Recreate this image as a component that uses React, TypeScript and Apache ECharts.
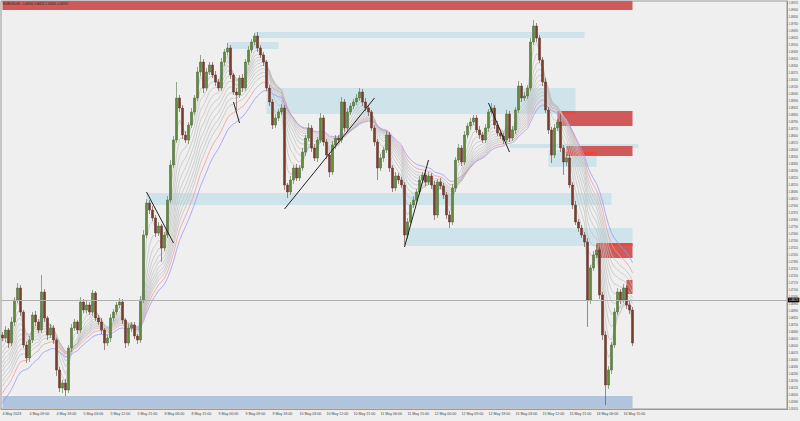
import React, { useEffect, useRef } from "react";
import * as echarts from "echarts";

// ---- data ----
const firstOpen = 1.0665;
const closes = [
  1.0662, 1.067, 1.0657, 1.0678, 1.07, 1.0712, 1.0688, 1.0655, 1.0642, 1.066,
  1.0685, 1.0678, 1.067, 1.0708, 1.0682, 1.0665, 1.0672, 1.066, 1.063, 1.0612,
  1.0617, 1.061, 1.0652, 1.0672, 1.0678, 1.067, 1.0698, 1.069, 1.0695, 1.0688,
  1.0707, 1.0682, 1.0678, 1.067, 1.0657, 1.0662, 1.0682, 1.0688, 1.0695, 1.0698,
  1.068, 1.0657, 1.0672, 1.0675, 1.0664, 1.066, 1.07, 1.0765, 1.0797, 1.079,
  1.0782, 1.0767, 1.0774, 1.0752, 1.0765, 1.08, 1.0835, 1.086, 1.0902, 1.0892,
  1.0865, 1.086, 1.0875, 1.0888, 1.0902, 1.0928, 1.0938, 1.0912, 1.0928, 1.0935,
  1.0925, 1.0918, 1.0912, 1.0938, 1.0948, 1.0952, 1.0925, 1.0908, 1.0905, 1.0922,
  1.0912, 1.0938, 1.095, 1.0958, 1.0964, 1.0952, 1.0945, 1.0938, 1.0912, 1.0898,
  1.0875, 1.0882, 1.0888, 1.0892, 1.0815, 1.0808, 1.082, 1.0832, 1.0822, 1.0832,
  1.0848, 1.0862, 1.0872, 1.0852, 1.0842, 1.086, 1.0882, 1.0858, 1.0845, 1.0828,
  1.0855, 1.0862, 1.086, 1.0898, 1.0872, 1.0888, 1.0894, 1.0898, 1.0902, 1.0908,
  1.0898, 1.0892, 1.0888, 1.0872, 1.0858, 1.0832, 1.0842, 1.085, 1.0865, 1.0832,
  1.0812, 1.0824, 1.082, 1.0815, 1.0765, 1.0778, 1.0795, 1.08, 1.0808, 1.082,
  1.0825, 1.0818, 1.0824, 1.0815, 1.0785, 1.0818, 1.0814, 1.0805, 1.0785, 1.0778,
  1.0812, 1.084, 1.0852, 1.0838, 1.0865, 1.0874, 1.0878, 1.0882, 1.087, 1.0865,
  1.086, 1.0872, 1.0888, 1.0892, 1.0875, 1.0867, 1.0864, 1.086, 1.0886, 1.0862,
  1.087, 1.089, 1.0914, 1.0902, 1.0904, 1.0912, 1.0958, 1.0974, 1.0962, 1.094,
  1.0918, 1.089, 1.087, 1.0845, 1.0872, 1.0878, 1.0852, 1.0838, 1.0842, 1.0815,
  1.0795, 1.0778, 1.0772, 1.0765, 1.0758, 1.07, 1.0732, 1.0745, 1.075, 1.0705,
  1.0665, 1.0615, 1.063, 1.0655, 1.0688, 1.0708, 1.07, 1.0712, 1.0695, 1.069,
  1.0657,
];
// wick lengths in pips beyond the body
const upperWicks = [
  3, 4, 2, 5, 3, 5, 3, 2, 3, 4, 3, 4, 3, 17, 3, 2, 4, 3, 2, 3,
  3, 4, 3, 4, 3, 2, 5, 3, 4, 3, 3, 2, 3, 4, 2, 3, 4, 3, 3, 4,
  3, 2, 4, 3, 3, 2, 4, 5, 4, 3, 4, 3, 4, 2, 3, 4, 5, 4, 16, 3,
  3, 4, 3, 4, 3, 5, 7, 3, 4, 3, 3, 4, 3, 4, 3, 5, 3, 2, 4, 3,
  4, 3, 4, 3, 3, 4, 3, 3, 2, 3, 3, 4, 3, 4, 3, 2, 4, 3, 4, 3,
  4, 3, 5, 3, 4, 3, 5, 3, 3, 2, 4, 3, 3, 5, 3, 4, 3, 3, 4, 4,
  3, 4, 3, 2, 3, 3, 4, 3, 4, 3, 3, 4, 3, 3, 3, 4, 3, 4, 3, 4,
  3, 6, 4, 3, 4, 3, 4, 3, 3, 4, 4, 3, 4, 3, 4, 3, 4, 3, 3, 4,
  3, 4, 3, 5, 3, 4, 3, 3, 4, 3, 4, 3, 5, 3, 4, 3, 4, 6, 3, 3,
  3, 4, 3, 3, 4, 3, 8, 3, 4, 3, 3, 4, 3, 3, 3, 4, 3, 4, 5, 3,
  3, 4, 4, 3, 4, 4, 3, 4, 3, 4, 3,
];
const lowerWicks = [
  3, 4, 5, 3, 4, 3, 4, 3, 5, 4, 3, 4, 3, 3, 4, 5, 3, 4, 6, 4,
  5, 6, 3, 4, 3, 4, 3, 3, 4, 3, 4, 3, 3, 4, 7, 3, 4, 3, 3, 3,
  4, 5, 3, 4, 3, 4, 3, 3, 3, 4, 3, 4, 3, 14, 3, 3, 3, 3, 3, 4,
  4, 3, 4, 3, 3, 3, 4, 5, 3, 3, 3, 4, 3, 3, 4, 3, 4, 3, 15, 3,
  4, 3, 3, 3, 3, 4, 3, 4, 3, 4, 4, 3, 3, 3, 5, 6, 3, 4, 3, 3,
  3, 4, 3, 4, 3, 4, 3, 4, 4, 5, 3, 4, 3, 3, 4, 3, 3, 3, 3, 3,
  4, 3, 4, 3, 4, 12, 3, 4, 3, 4, 4, 3, 4, 3, 10, 4, 3, 3, 3, 3,
  3, 4, 3, 4, 5, 3, 3, 4, 4, 6, 3, 4, 3, 4, 3, 3, 4, 3, 3, 4,
  3, 3, 4, 3, 4, 3, 3, 4, 3, 4, 3, 4, 3, 4, 3, 3, 3, 3, 4, 3,
  4, 3, 4, 8, 3, 3, 4, 13, 4, 3, 4, 3, 4, 3, 5, 27, 4, 3, 3, 4,
  5, 20, 4, 4, 3, 3, 4, 3, 4, 4, 3,
];
const futureSlots = 51;
const timeLabels = [
  "4 May 2023", "4 May 09:00", "4 May 18:00", "5 May 03:00", "5 May 12:00", "5 May 21:00",
  "8 May 06:00", "8 May 15:00", "9 May 00:00", "9 May 09:00", "9 May 18:00", "10 May 03:00",
  "10 May 12:00", "10 May 21:00", "11 May 06:00", "11 May 15:00", "12 May 00:00", "12 May 09:00",
  "12 May 18:00", "15 May 03:00", "15 May 12:00", "15 May 21:00", "16 May 06:00", "16 May 15:00",
];
const labelEvery = 9;
// moving-average ribbon
const grayPeriods = [3, 5, 7, 9, 11, 13, 15, 17, 19, 21];
const grayStarts = [1.0655, 1.0648, 1.0642, 1.0637, 1.0632, 1.0628, 1.0624, 1.0619, 1.0614, 1.0609];
const redPeriod = 24;
const redStart = 1.0602;
const bluePeriod = 28;
const blueStart = 1.0592;
// zones: [startIndex, endIndex, top, bottom]
const blueZones = [
  [84, 194, 1.0968, 1.0962],
  [75, 92, 1.0958, 1.0951],
  [88, 191, 1.0912, 1.0886],
  [48, 203, 1.0807, 1.0795],
  [134, 210, 1.0772, 1.0754],
  [169, 212, 1.0856, 1.0852],
  [182, 198, 1.085, 1.0833],
];
const redZones = [
  [0, 210, 1.0999, 1.099],
  [185, 210, 1.0889, 1.0874],
  [188, 210, 1.0854, 1.0844],
  [198, 210, 1.0756, 1.0742],
  [208, 210, 1.072, 1.0706],
];
const brightStrips = [
  [186, 191, 1.0889, 1.0886],
  [188, 198, 1.0848, 1.0845],
  [198, 210, 1.0757, 1.0754],
];
const floorZone = [0, 210, 1.0604, 1.0592];
// trend lines: [[index, price], [index, price]]
const trendLines = [
  [[48, 1.0808], [57, 1.0757]],
  [[94, 1.0791], [124, 1.0902]],
  [[134, 1.0753], [142, 1.084]],
  [[77, 1.0898], [79, 1.0877]],
  [[162, 1.0897], [169, 1.0848]],
];
const lastPrice = 1.0657;
const chartTitle = "EURUSD,H1  1.06590 1.06612 1.06565 1.06570";

function ema(period: number, start: number) {
  const k = 2 / (period + 1);
  let e = start;
  return closes.map((c) => {
    e = e + k * (c - e);
    return +e.toFixed(5);
  });
}

export default function App() {
  const ref = useRef<HTMLDivElement>(null);
  useEffect(() => {
    document.body.style.margin = "0";
    document.body.style.background = "#efefef";
    const chart = echarts.init(ref.current!, null, { renderer: "svg" });
    const candles = closes.map((c, i) => {
      const o = i === 0 ? firstOpen : closes[i - 1];
      const hi = Math.max(o, c) + upperWicks[i] * 0.0001;
      const lo = Math.min(o, c) - lowerWicks[i] * 0.0001;
      return [o, c, +lo.toFixed(5), +hi.toFixed(5)];
    });
    const total = closes.length + futureSlots;
    const cats: string[] = [];
    for (let i = 0; i < total; i++) {
      cats.push(i % labelEvery === 0 && i / labelEvery < timeLabels.length ? timeLabels[i / labelEvery] : "");
    }
    const area = (z: number[], color: string) => [
      { xAxis: z[0], yAxis: z[2], itemStyle: { color } },
      { xAxis: z[1], yAxis: z[3] },
    ];
    const lineSeries = (data: number[], color: string, w: number) => ({
      type: "line",
      data,
      showSymbol: false,
      symbol: "none",
      z: 2,
      silent: true,
      lineStyle: { color, width: w },
    });
    const series: any[] = [
      {
        type: "line",
        data: [],
        z: 1,
        silent: true,
        markArea: {
          silent: true,
          data: [
            ...blueZones.map((z) => area(z, "rgba(173,216,230,0.5)")),
            ...redZones.map((z) => area(z, "#d05a5a")),
            ...brightStrips.map((z) => area(z, "#f0463a")),
            area(floorZone, "#b0c4de"),
          ],
        },
      },
      ...grayPeriods.map((p, i) => lineSeries(ema(p, grayStarts[i]), "#c0c0c0", 0.7)),
      lineSeries(ema(redPeriod, redStart), "#f29a9a", 0.8),
      lineSeries(ema(bluePeriod, blueStart), "#9a9af5", 0.8),
      {
        type: "candlestick",
        data: candles,
        z: 3,
        barWidth: 2,
        itemStyle: {
          color: "#5e8a3a",
          color0: "#7a3d2c",
          borderColor: "#55703f",
          borderColor0: "#6a4035",
          borderWidth: 0.6,
        },
        markLine: {
          silent: true,
          symbol: "none",
          animation: false,
          data: [
            ...trendLines.map((t) => [
              { coord: t[0], lineStyle: { color: "#222", width: 1, type: "solid" }, label: { show: false } },
              { coord: t[1] },
            ]),
            {
              yAxis: lastPrice,
              lineStyle: { color: "#b0b0b0", width: 1, type: "solid" },
              label: {
                show: true,
                position: "end",
                distance: 1,
                formatter: lastPrice.toFixed(5),
                backgroundColor: "#000",
                color: "#fff",
                fontSize: 2.6,
                fontFamily: "Liberation Sans",
                padding: [0.8, 1],
              },
            },
          ],
        },
      },
    ];
    chart.setOption({
      animation: false,
      backgroundColor: "#efefef",
      textStyle: { fontFamily: "Liberation Sans" },
      grid: {
        left: 1, right: 13, top: 1, bottom: 12,
        containLabel: false, outerBoundsMode: "none",
        show: true, borderColor: "#9a9a9a", borderWidth: 1, backgroundColor: "#efefef",
      },
      graphic: [
        { type: "text", left: 3, top: 2, z: 10, style: { text: chartTitle, fontSize: 3, fill: "#222", fontFamily: "Liberation Sans" } },
      ],
      xAxis: {
        type: "category",
        data: cats,
        boundaryGap: true,
        axisLine: { lineStyle: { color: "#999" } },
        axisTick: { length: 2, interval: (i: number, v: string) => v !== "", lineStyle: { color: "#888" } },
        axisLabel: { interval: 0, fontSize: 3.6, color: "#444", align: "left", margin: 3, fontFamily: "Liberation Sans" },
        splitLine: { show: false },
      },
      yAxis: {
        type: "value",
        position: "right",
        min: 1.0591,
        max: 1.0999,
        interval: 0.0007,
        scale: true,
        axisLine: { show: true, lineStyle: { color: "#999" } },
        axisTick: { show: true, length: 1, lineStyle: { color: "#888" } },
        axisLabel: {
          fontSize: 2.6, color: "#444", margin: 1.5, showMaxLabel: false,
          fontFamily: "Liberation Sans",
          formatter: (v: number) => v.toFixed(5),
        },
        splitLine: { show: false },
      },
      series,
    });
    return () => chart.dispose();
  }, []);
  return <div ref={ref} style={{ width: 800, height: 421 }} />;
}
